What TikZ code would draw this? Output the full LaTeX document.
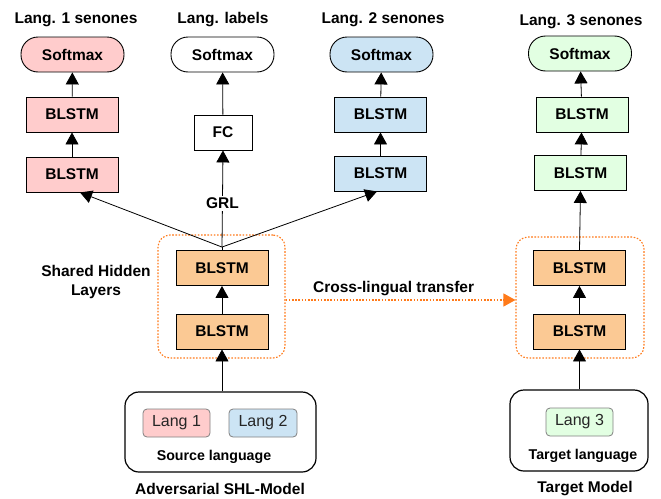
\documentclass[tikz,border=0pt]{standalone}
\usepackage{fontspec}
\setmainfont{Liberation Sans}
\usetikzlibrary{arrows.meta,calc}
\definecolor{pinkfill}{HTML}{FFCCCC}
\definecolor{bluefill}{HTML}{CCE4F4}
\definecolor{greenfill}{HTML}{E2FFE2}
\definecolor{orangefill}{HTML}{FBC994}
\definecolor{dotorange}{HTML}{FF7A1A}
\definecolor{langtext}{HTML}{262626}
\begin{document}
\begin{tikzpicture}[x=1pt,y=-1pt,
  lbl/.style={font=\fontsize{15.5}{19}\selectfont\bfseries, align=center, inner sep=1pt},
  small/.style={font=\fontsize{14.2}{17}\selectfont\bfseries, inner sep=1pt},
  layer/.style={draw, line width=0.9pt, minimum width=92pt, minimum height=35pt,
                inner sep=0pt, font=\fontsize{15.5}{19}\selectfont\bfseries},
  pill/.style={draw, line width=0.9pt, rounded corners=17pt, minimum width=103pt,
               minimum height=35pt, inner sep=0pt, font=\fontsize{15.5}{19}\selectfont\bfseries},
  arr/.style={-{Triangle[length=12pt,width=13pt]}, line width=0.8pt},
  frame/.style={draw=dotorange, dash pattern=on 1.6pt off 1.6pt, line width=1.1pt,
                rounded corners=12pt, inner sep=0pt},
  inbox/.style={draw, line width=1.2pt, rounded corners=14pt, inner sep=0pt},
  langbox/.style={draw=gray, line width=0.8pt, rounded corners=4pt, minimum width=67pt,
                  minimum height=28pt, inner sep=0pt,
                  font=\fontsize{16}{19}\selectfont, text=langtext}]
\useasboundingbox (0,0) rectangle (661,498);

% output heads
\node[lbl] (t1) at (76,20) {Lang. 1 senones};
\node[lbl] (t2) at (223,20) {Lang. labels};
\node[lbl] (t3) at (383,20) {Lang. 2 senones};
\node[lbl] (t4) at (581,21.5) {Lang. 3 senones};

\node[pill, fill=pinkfill] (s1) at (72.5,54.5) {Softmax};
\node[pill, fill=white] (s2) at (222.5,54.5) {Softmax};
\node[pill, fill=bluefill] (s3) at (381.5,54.5) {Softmax};
\node[pill, fill=greenfill] (s4) at (580,53.5) {Softmax};

% language-specific layers
\node[layer, fill=pinkfill] (a1) at (72,114.5) {BLSTM};
\node[layer, fill=pinkfill] (a2) at (72,174.5) {BLSTM};
\node[layer, fill=white, minimum width=58pt] (fc) at (223,132.5) {FC};
\node[layer, fill=bluefill] (b1) at (380.5,114.5) {BLSTM};
\node[layer, fill=bluefill] (b2) at (380.5,173.5) {BLSTM};
\node[layer, fill=greenfill] (c1) at (582,114.5) {BLSTM};
\node[layer, fill=greenfill] (c2) at (580.5,173) {BLSTM};

% shared hidden layers
\node[frame, minimum width=127pt, minimum height=123pt] (shbox) at (221.5,296.5) {};
\node[layer, fill=orangefill] (shT) at (222,268) {BLSTM};
\node[layer, fill=orangefill] (shB) at (222,331.5) {BLSTM};
\node[lbl] (shl) at (96,282) {Shared Hidden\\Layers};

% transferred layers
\node[frame, minimum width=128pt, minimum height=121pt] (tgbox) at (580,297.5) {};
\node[layer, fill=orangefill] (tgT) at (579.5,268) {BLSTM};
\node[layer, fill=orangefill] (tgB) at (579.5,331.5) {BLSTM};

% inputs
\node[inbox, minimum width=191pt, minimum height=80pt] (src) at (220.5,432) {};
\node[langbox, fill=pinkfill] (l1) at (176.5,423) {Lang 1};
\node[langbox, fill=bluefill, minimum width=68pt] (l2) at (263,423) {Lang 2};
\node[small] (srcl) at (214,457) {Source language};

\node[inbox, minimum width=138pt, minimum height=81pt] (tgt) at (579,430.5) {};
\node[langbox, fill=greenfill] (l3) at (579.5,422) {Lang 3};
\node[small] (tgtl) at (583,456) {Target language};

\node[lbl] (adv) at (220,489) {Adversarial SHL-Model};
\node[lbl] (tm) at (585,489) {Target Model};

% connectors
\coordinate (apex) at ([yshift=3pt]shT.north);
\draw[arr] (a2) -- (a1);
\draw[arr] (a1) -- (s1);
\draw[arr] (fc) -- (s2);
\draw[arr] (b2) -- (b1);
\draw[arr] (b1) -- (s3);
\draw[arr] (c2) -- (c1);
\draw[arr] (c1) -- (s4);
\draw[arr] (apex) -- ([xshift=8pt]a2.south);
\draw[arr] (apex) -- ([xshift=-3.5pt]b2.south);
\draw[arr] (apex) -- node[pos=0.45, fill=white, lbl, inner sep=2pt] (grl) {GRL} (fc.south);
\draw[line width=0.8pt] (apex) -- (shT.north);
\draw[arr] (shB) -- (shT);
\draw[arr] (shB.south |- src.north) -- (shB.south);
\draw[arr] (tgB) -- (tgT);
\draw[arr] (tgB.south |- tgt.north) -- (tgB.south);
\draw[arr] (tgT.north) -- (c2.south);

% transfer of the shared layers
\draw[draw=dotorange, dash pattern=on 1.6pt off 1.6pt, line width=1.1pt,
      -{Triangle[length=12pt,width=13pt,fill=dotorange,sep=0pt]}]
  ([yshift=-3.5pt]shbox.east) -- ([yshift=-3.5pt]shbox.east -| tgbox.west)
  node[pos=0.47, lbl, above=3pt] (xl) {Cross-lingual transfer};
\end{tikzpicture}
\end{document}
